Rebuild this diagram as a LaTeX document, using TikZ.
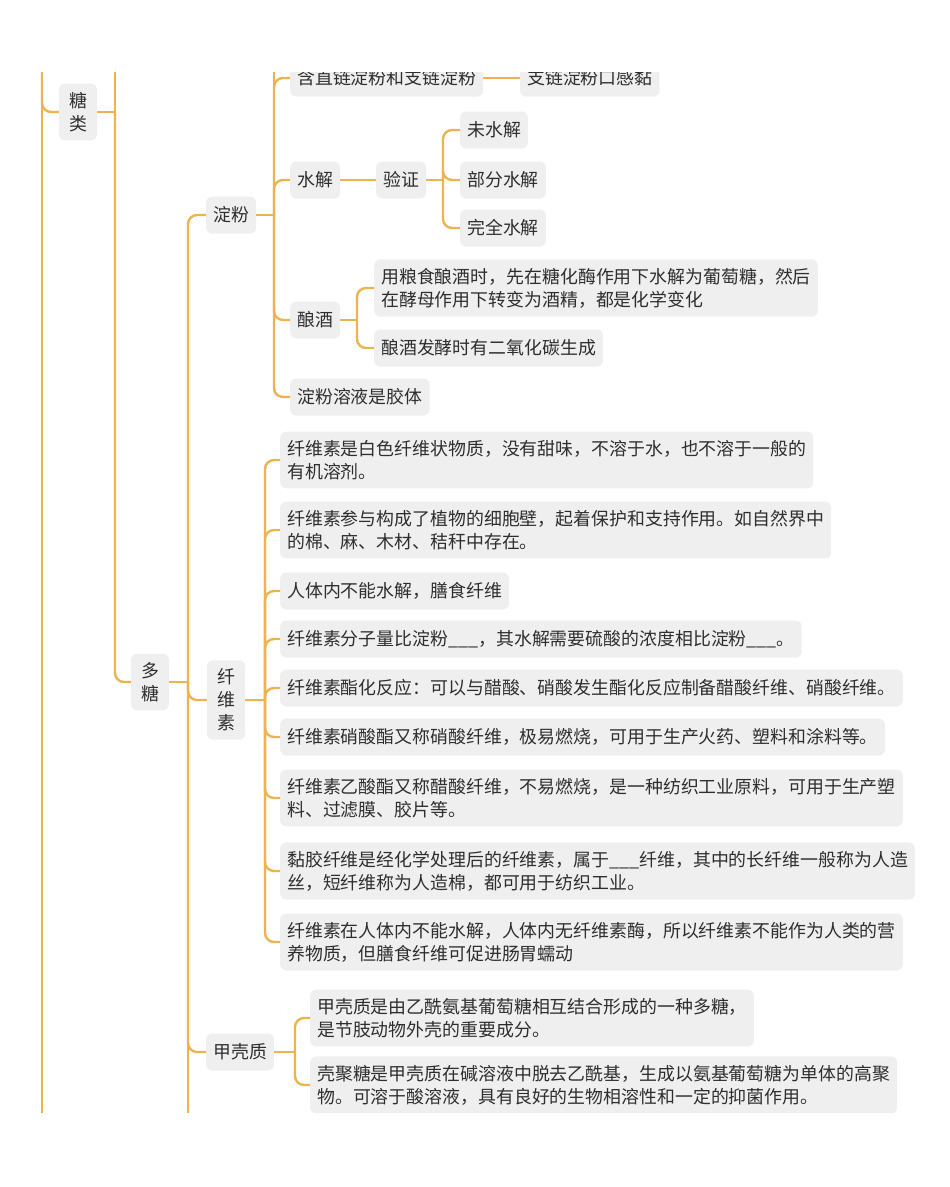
\documentclass[tikz,border=0pt]{standalone}
\usepackage{fontspec}
\setmainfont{Noto Sans CJK SC}
\begin{document}
\begin{tikzpicture}[x=1pt,y=-1pt,
  ln/.style={draw=lineor,line width=2.4pt,rounded corners=9pt},
  bx/.style={fill=boxg,rounded corners=6pt,inner xsep=7pt,inner ysep=8.5pt,anchor=west,
    text=txt,font=\fontsize{17.9}{23}\selectfont,align=left,minimum height=37pt},
  vb/.style={bx,anchor=center,align=center,minimum width=38pt}]
\definecolor{lineor}{HTML}{EDB350}
\definecolor{boxg}{HTML}{EFEFEF}
\definecolor{txt}{HTML}{2E2E2E}
\useasboundingbox (0,0) rectangle (950,1187);
\begin{scope}
\clip (0,72) rectangle (950,1112);
% nodes
\node[vb] (tl) at (78,112) {糖\\类};
\node[vb] (dt) at (150,682) {多\\糖};
\node[bx] (df) at (206,215) {淀粉};
\node[vb] (xws) at (226,700) {纤\\维\\素};
\node[bx] (jkz) at (206,1052) {甲壳质};
\node[bx] (a1) at (290,78) {含直链淀粉和支链淀粉};
\node[bx] (a1b) at (520,78) {支链淀粉口感黏};
\node[bx] (sj) at (290,180) {水解};
\node[bx] (yz) at (376,180) {验证};
\node[bx] (w1) at (460,130) {未水解};
\node[bx] (w2) at (460,180) {部分水解};
\node[bx] (w3) at (460,228) {完全水解};
\node[bx] (nj) at (290,320) {酿酒};
\node[bx] (n1) at (374,288) {用粮食酿酒时，先在糖化酶作用下水解为葡萄糖，然后\\在酵母作用下转变为酒精，都是化学变化};
\node[bx] (n2) at (374,348) {酿酒发酵时有二氧化碳生成};
\node[bx] (jt) at (290,397) {淀粉溶液是胶体};
\node[bx] (x1) at (280,460) {纤维素是白色纤维状物质，没有甜味，不溶于水，也不溶于一般的\\有机溶剂。};
\node[bx] (x2) at (280,530) {纤维素参与构成了植物的细胞壁，起着保护和支持作用。如自然界中\\的棉、麻、木材、秸秆中存在。};
\node[bx] (x3) at (280,591) {人体内不能水解，膳食纤维};
\node[bx] (x4) at (280,639) {纤维素分子量比淀粉\_\_\_，其水解需要硫酸的浓度相比淀粉\_\_\_。};
\node[bx] (x5) at (280,688) {纤维素酯化反应：可以与醋酸、硝酸发生酯化反应制备醋酸纤维、硝酸纤维。};
\node[bx] (x6) at (280,737) {纤维素硝酸酯又称硝酸纤维，极易燃烧，可用于生产火药、塑料和涂料等。};
\node[bx] (x7) at (280,798) {纤维素乙酸酯又称醋酸纤维，不易燃烧，是一种纺织工业原料，可用于生产塑\\料、过滤膜、胶片等。};
\node[bx] (x8) at (280,871) {黏胶纤维是经化学处理后的纤维素，属于\_\_\_纤维，其中的长纤维一般称为人造\\丝，短纤维称为人造棉，都可用于纺织工业。};
\node[bx] (x9) at (280,942) {纤维素在人体内不能水解，人体内无纤维素酶，所以纤维素不能作为人类的营\\养物质，但膳食纤维可促进肠胃蠕动};
\node[bx] (j1) at (310,1018) {甲壳质是由乙酰氨基葡萄糖相互结合形成的一种多糖，\\是节肢动物外壳的重要成分。};
\node[bx] (j2) at (310,1085) {壳聚糖是甲壳质在碱溶液中脱去乙酰基，生成以氨基葡萄糖为单体的高聚\\物。可溶于酸溶液，具有良好的生物相溶性和一定的抑菌作用。};
% free ends and junctions
\coordinate (t0) at (42,70);
\coordinate (b0) at (42,1114);
\coordinate (t1) at (115,70);
\coordinate (b2) at (188,1114);
\coordinate (t3) at (274,70);
\coordinate (k1) at (115,112);
\coordinate (k2) at (188,682);
\coordinate (k3) at (274,215);
\coordinate (k4) at (443,180);
\coordinate (k5) at (357,320);
\coordinate (k6) at (265,700);
\coordinate (k7) at (295,1052);
% connectors
\draw[ln] (t0) -- (b0);
\draw[ln] (t0) |- (tl.west);
\draw[ln,rounded corners=0pt] (tl.east) -- (k1) -- (t1);
\draw[ln] (k1) |- (dt.west);
\draw[ln,rounded corners=0pt] (dt.east) -- (k2) -- (b2);
\foreach \c in {df,xws,jkz} \draw[ln] (k2) |- (\c.west);
\draw[ln,rounded corners=0pt] (df.east) -- (k3) -- (t3);
\foreach \c in {a1,sj,nj,jt} \draw[ln] (k3) |- (\c.west);
\draw[ln] (a1.east) -- (a1b.west);
\draw[ln] (sj.east) -- (yz.west);
\draw[ln] (yz.east) -- (k4);
\foreach \c in {w1,w2,w3} \draw[ln] (k4) |- (\c.west);
\draw[ln] (nj.east) -- (k5);
\foreach \c in {n1,n2} \draw[ln] (k5) |- (\c.west);
\draw[ln] (xws.east) -- (k6);
\foreach \c in {x1,x2,x3,x4,x5,x6,x7,x8,x9} \draw[ln] (k6) |- (\c.west);
\draw[ln] (jkz.east) -- (k7);
\foreach \c in {j1,j2} \draw[ln] (k7) |- (\c.west);
\end{scope}
\end{tikzpicture}
\end{document}
